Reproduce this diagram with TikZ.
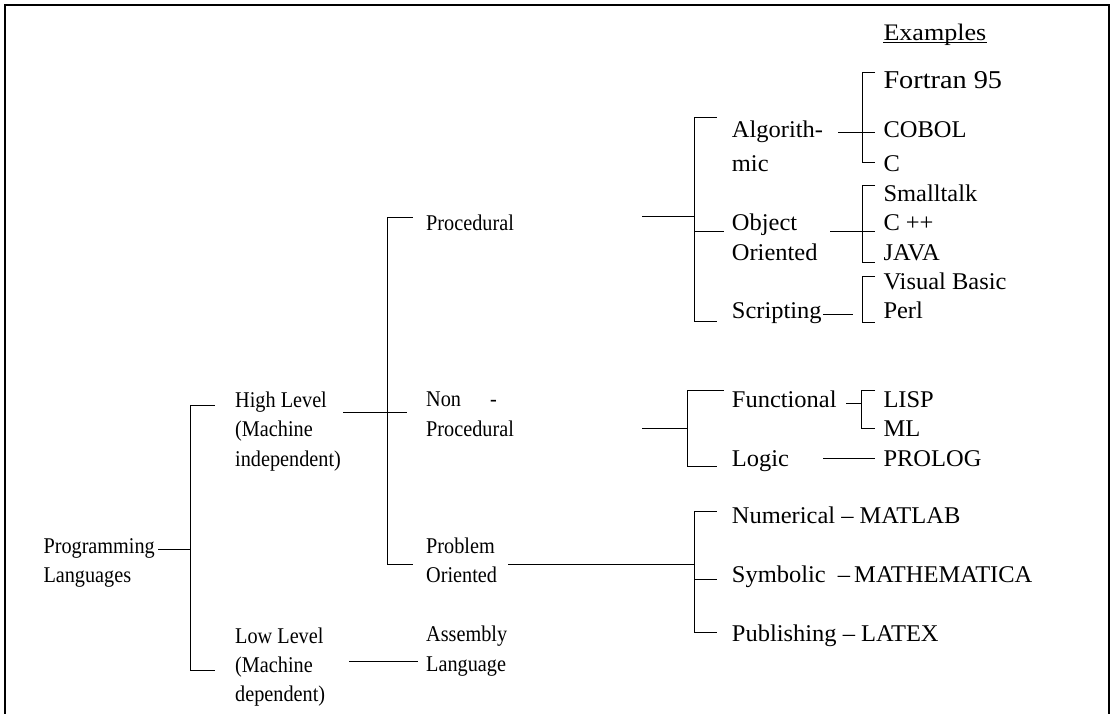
\documentclass[tikz,border=0pt]{standalone}
\usepackage{fontspec}
\setmainfont{Liberation Serif}[FakeStretch=0.9]
\newfontfamily\rightfont{Liberation Serif}[FakeStretch=1.02]
\newfontfamily\headfont{Liberation Serif}[FakeStretch=1.1]
\usepackage{tikz}

\tikzset{
  lbl/.style={anchor=base west, inner sep=0pt, align=left, font=\fontsize{22.5}{29.3}\selectfont},
  lblr/.style={lbl, font=\rightfont\fontsize{24}{29.3}\selectfont},
  big/.style={font=\headfont\fontsize{25.7}{30}\selectfont},
  link/.style={line width=1pt}
}

\begin{document}
\begin{tikzpicture}[x=1pt, y=-1pt]
  \useasboundingbox (0,0) rectangle (1110,714);

  % Frame, open at the bottom
  \draw [line width=1.2pt] (5,714) -- (5,5) -- (1109,5) -- (1109,714);

  % Root and the two levels (multi-line nodes sit on their last line)
  \node [lbl] (prog) at (43.3,582.7) {Programming\\Languages};
  \node [lbl] (high) at (235,466) {High Level\\(Machine\\independent)};
  \node [lbl] (low) at (235,701.7) {Low Level\\(Machine\\dependent)};
  \coordinate (prog-out) at (158,549);
  \coordinate (lvl-top) at (190,405);
  \coordinate (lvl-bot) at (190,670);
  \draw [link] (prog-out) -- (prog-out -| lvl-top);
  \draw [link] (lvl-top) -- (lvl-bot) -- ++(25,0);
  \draw [link] (lvl-top) -- ++(25,0);

  % High level split
  \node [lbl] (proc) at (426,230) {Procedural};
  \node [lbl] (nonproc) at (426,436) {Non\hspace*{29pt}-\\Procedural};
  \node [lbl] (probl) at (426,582.7) {Problem\\Oriented};
  \coordinate (high-out) at (343,412);
  \coordinate (nonproc-in) at (407,412);
  \coordinate (hl-top) at (387,217);
  \coordinate (hl-bot) at (387,564);
  \draw [link] (high-out) -- (nonproc-in);
  \draw [link] (hl-top) -- (hl-bot) -- ++(26,0);
  \draw [link] (hl-top) -- ++(26,0);

  % Low level
  \node [lbl] (asm) at (426,671) {Assembly\\Language};
  \coordinate (low-out) at (349,661);
  \coordinate (asm-in) at (418,661);
  \draw [link] (low-out) -- (asm-in);

  % Procedural kinds
  \node [lblr] (alg) at (731.7,171.7) {Algorith-\\[5pt]mic};
  \node [lblr] (oo) at (731.7,260) {Object\\Oriented};
  \node [lblr] (scr) at (731.7,318.3) {Scripting};
  \coordinate (proc-out) at (642,216);
  \coordinate (pr-top) at (694,118);
  \coordinate (pr-bot) at (694,321);
  \coordinate (oo-in) at (724,231);
  \draw [link] (proc-out) -- (proc-out -| pr-top);
  \draw [link] (pr-top) -- (pr-bot) -- ++(23,0);
  \draw [link] (pr-top) -- ++(23,0);
  \draw [link] (oo-in -| pr-top) -- (oo-in);

  % Non-procedural kinds
  \node [lblr] (func) at (731.7,407.3) {Functional};
  \node [lblr] (logic) at (731.7,466) {Logic};
  \coordinate (np-out) at (642,428);
  \coordinate (np-top) at (687,390);
  \coordinate (np-bot) at (687,466);
  \draw [link] (np-out) -- (np-out -| np-top);
  \draw [link] (np-top) -- (np-bot) -- ++(30,0);
  \draw [link] (np-top) -- ++(37,0);

  % Problem oriented kinds
  \node [lblr] (num) at (731.7,523.3) {Numerical – MATLAB};
  \node [lblr] (sym) at (731.7,582.3) {Symbolic\ \ –\,MATHEMATICA};
  \node [lblr] (pub) at (731.7,641.7) {Publishing – LATEX};
  \coordinate (po-out) at (508,564);
  \coordinate (po-top) at (694,511);
  \coordinate (po-bot) at (694,632);
  \coordinate (sym-in) at (717,579);
  \draw [link] (po-out) -- (po-out -| po-top);
  \draw [link] (po-top) -- (po-bot) -- ++(23,0);
  \draw [link] (po-top) -- ++(23,0);
  \draw [link] (sym-in -| po-top) -- (sym-in);

  % Examples column
  \node [lbl, font=\headfont\fontsize{23.7}{30}\selectfont] (exhead) at (883.3,40.7) {Examples};
  \draw [line width=0.9pt] ([yshift=-2pt]exhead.base west) -- ([yshift=-2pt]exhead.base east);
  \node [lbl, big] (f95) at (883.3,88.3) {Fortran 95};
  \node [lblr] (cobol) at (883.3,137.3) {COBOL};
  \node [lblr] (c) at (883.3,171.7) {C};
  \node [lblr] (st) at (883.3,201.7) {Smalltalk};
  \node [lblr] (cpp) at (883.3,230.7) {C ++};
  \node [lblr] (java) at (883.3,260) {JAVA};
  \node [lblr] (vb) at (883.3,289.3) {Visual Basic};
  \node [lblr] (perl) at (883.3,318.3) {Perl};
  \node [lblr] (lisp) at (883.3,407.3) {LISP};
  \node [lblr] (ml) at (883.3,436) {ML};
  \node [lblr] (prolog) at (883.3,466) {PROLOG};

  % Brackets to the examples
  \coordinate (alg-out) at (838,133);
  \coordinate (ex1-top) at (862,73);
  \coordinate (ex1-bot) at (862,163);
  \draw [link] (alg-out) -- ++(37,0);
  \draw [link] (ex1-top) ++(13,0) -- (ex1-top) -- (ex1-bot) -- ++(13,0);

  \coordinate (oo-out) at (830,231);
  \coordinate (ex2-top) at (862,186);
  \coordinate (ex2-bot) at (862,262);
  \draw [link] (oo-out) -- ++(45,0);
  \draw [link] (ex2-top) ++(13,0) -- (ex2-top) -- (ex2-bot) -- ++(13,0);

  \coordinate (scr-out) at (823,314);
  \coordinate (scr-in) at (853,314);
  \coordinate (ex3-top) at (862,276);
  \coordinate (ex3-bot) at (862,322);
  \draw [link] (scr-out) -- (scr-in);
  \draw [link] (ex3-top) ++(13,0) -- (ex3-top) -- (ex3-bot) -- ++(13,0);

  \coordinate (func-out) at (846,403);
  \coordinate (ex4-top) at (861,390);
  \coordinate (ex4-bot) at (861,428);
  \draw [link] (func-out) -- (func-out -| ex4-top);
  \draw [link] (ex4-top) ++(14,0) -- (ex4-top) -- (ex4-bot) -- ++(14,0);

  \coordinate (logic-out) at (823,458);
  \coordinate (prolog-in) at (875,458);
  \draw [link] (logic-out) -- (prolog-in);
\end{tikzpicture}
\end{document}
